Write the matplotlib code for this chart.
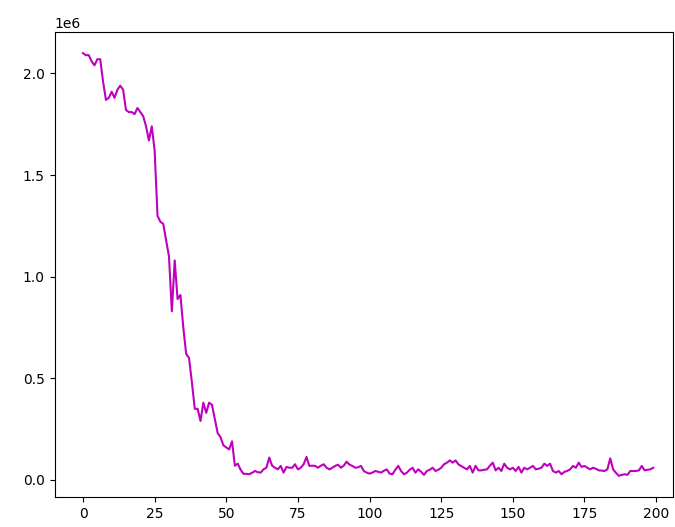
import numpy as np
import matplotlib
matplotlib.use('Agg')
import matplotlib.pyplot as plt

# values (units of 1e6)
head_vals = [2.10, 2.09, 2.09, 2.06, 2.04, 2.07, 2.07, 1.96, 1.87, 1.88,
             1.91, 1.88, 1.92, 1.94, 1.92, 1.82, 1.81, 1.81, 1.80, 1.83,
             1.81, 1.79, 1.74, 1.67, 1.74, 1.62, 1.30, 1.27, 1.26, 1.18,
             1.10, 0.83, 1.08, 0.89, 0.91, 0.75, 0.62, 0.60, 0.48, 0.35,
             0.35, 0.29, 0.38, 0.33, 0.38, 0.37, 0.30, 0.23, 0.21, 0.17,
             0.16, 0.15, 0.19, 0.07, 0.08, 0.05, 0.03]

tail_vals = [0.030, 0.028, 0.035, 0.044, 0.038, 0.036, 0.052, 0.060, 0.110, 0.070,
             0.060, 0.052, 0.069, 0.036, 0.064, 0.060, 0.060, 0.077, 0.052, 0.060,
             0.077, 0.113, 0.069, 0.070, 0.069, 0.060, 0.070, 0.077, 0.060, 0.052,
             0.060, 0.069, 0.075, 0.060, 0.070, 0.090, 0.075, 0.069, 0.060, 0.062,
             0.069, 0.044, 0.036, 0.031, 0.036, 0.044, 0.040, 0.036, 0.045, 0.052,
             0.031, 0.028, 0.050, 0.069, 0.044, 0.028, 0.035, 0.050, 0.060, 0.036,
             0.052, 0.040, 0.025, 0.044, 0.050, 0.060, 0.044, 0.050, 0.060, 0.077,
             0.085, 0.096, 0.085, 0.096, 0.077, 0.068, 0.060, 0.052, 0.069, 0.036,
             0.069, 0.047, 0.047, 0.050, 0.052, 0.070, 0.085, 0.047, 0.060, 0.044,
             0.080, 0.060, 0.052, 0.060, 0.044, 0.064, 0.036, 0.060, 0.052, 0.060,
             0.069, 0.052, 0.055, 0.060, 0.080, 0.069, 0.080, 0.044, 0.036, 0.044,
             0.028, 0.040, 0.044, 0.052, 0.069, 0.060, 0.085, 0.064, 0.069, 0.060,
             0.052, 0.060, 0.055, 0.047, 0.046, 0.044, 0.052, 0.106, 0.052, 0.035,
             0.020, 0.025, 0.028, 0.025, 0.044, 0.044, 0.044, 0.047, 0.069, 0.047,
             0.050, 0.052, 0.060]

values = np.array(head_vals + tail_vals) * 1e6
steps = np.arange(len(values))

fig = plt.figure(figsize=(6.75, 5.27), dpi=100)
ax = fig.add_axes([54.5 / 675, 30 / 527, (673 - 54.5) / 675, 465 / 527])

ax.plot(steps, values, color='m')
ax.set_xlim(-9.95, 205.9)
ax.set_xticks([0, 25, 50, 75, 100, 125, 150, 175, 200])

fig.savefig('out.png', dpi=100)
